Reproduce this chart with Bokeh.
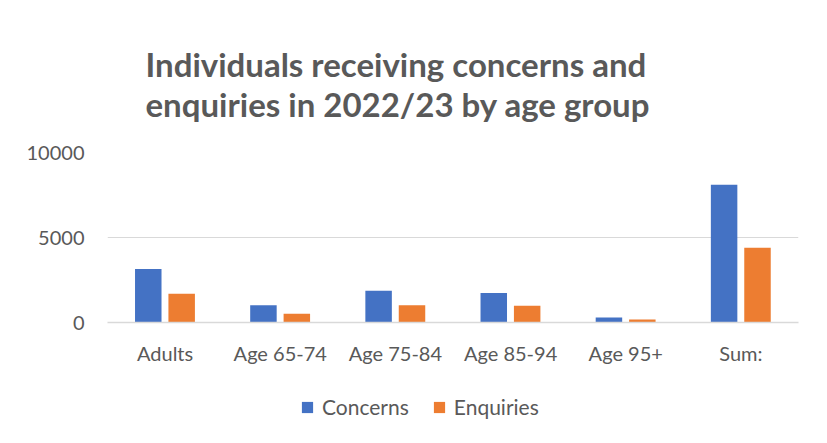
from bokeh.plotting import figure
from bokeh.layouts import column
from bokeh.models import (FactorRange, Range1d, FixedTicker, Legend,
                          LegendItem, ColumnDataSource)
from bokeh.transform import dodge
from bokeh.embed import file_html
from bokeh.resources import INLINE

categories = ["Adults", "Age 65-74", "Age 75-84", "Age 85-94", "Age 95+", "Sum:"]
concerns = [3140, 1020, 1870, 1730, 290, 8100]
enquiries = [1690, 510, 1020, 980, 180, 4390]
y_ticks = [0, 5000, 10000]
title_line1 = "Individuals receiving concerns and"
title_line2 = "enquiries in 2022/23 by age group"
series_names = ["Concerns", "Enquiries"]
colors = ["#4472C4", "#ED7D31"]

TEXT = "#595959"
GRID = "#d9d9d9"
FONT = "Lato"

src = ColumnDataSource(dict(cat=categories, concerns=concerns, enquiries=enquiries))
xr = FactorRange(*categories, range_padding=0)

p = figure(width=819, height=380, x_range=xr,
           y_range=Range1d(0, 10000), output_backend="svg", toolbar_location=None,
           min_border_left=107, min_border_right=21, min_border_top=152,
           min_border_bottom=58)

p.title.text = title_line1 + "\n" + title_line2
p.title.align = "left"
p.title.offset = 38
p.title.standoff = 58
p.title.text_font = FONT
p.title.text_font_size = "33px"
p.title.text_font_style = "bold"
p.title.text_color = TEXT
p.title.text_line_height = 1.0

r1 = p.vbar(x=dodge("cat", -0.146, range=xr), top="concerns", width=0.23,
            source=src, color=colors[0], line_color=None)
r2 = p.vbar(x=dodge("cat", 0.144, range=xr), top="enquiries", width=0.23,
            source=src, color=colors[1], line_color=None)

p.yaxis.ticker = FixedTicker(ticks=y_ticks)
p.yaxis.axis_line_color = None
p.yaxis.major_tick_line_color = None
p.yaxis.minor_tick_line_color = None
p.yaxis.major_label_standoff = 17
p.yaxis.major_label_text_font = FONT
p.yaxis.major_label_text_font_size = "20px"
p.yaxis.major_label_text_color = TEXT

p.xaxis.axis_line_color = GRID
p.xaxis.axis_line_width = 1.5
p.xaxis.major_tick_line_color = None
p.xaxis.minor_tick_line_color = None
p.xaxis.major_label_standoff = 12
p.xaxis.major_label_text_font = FONT
p.xaxis.major_label_text_font_size = "20px"
p.xaxis.major_label_text_color = TEXT

p.xgrid.grid_line_color = None
p.ygrid.grid_line_color = GRID
p.ygrid.grid_line_width = 1
p.outline_line_color = None

# legend strip: same bars, drawn against a y range far above them (so hidden),
# only so that the legend can show their swatches
p2 = figure(width=819, height=55, x_range=xr, y_range=Range1d(20000, 20001),
            output_backend="svg", toolbar_location=None,
            x_axis_location=None, y_axis_location=None,
            min_border_left=0, min_border_right=0, min_border_top=0, min_border_bottom=0)
p2.title.visible = False
p2.grid.visible = False
p2.outline_line_color = None
g1 = p2.vbar(x=dodge("cat", -0.146, range=xr), top="concerns", width=0.23,
             source=src, color=colors[0], line_color=None)
g2 = p2.vbar(x=dodge("cat", 0.144, range=xr), top="enquiries", width=0.23,
             source=src, color=colors[1], line_color=None)

legend = Legend(items=[LegendItem(label=series_names[0], renderers=[g1]),
                       LegendItem(label=series_names[1], renderers=[g2])],
                orientation="horizontal", location=(193, 16),
                border_line_color=None, background_fill_alpha=0,
                label_text_font=FONT, label_text_font_size="21px",
                label_text_color=TEXT, glyph_width=14, glyph_height=14,
                label_standoff=8, spacing=23, padding=0, margin=0)
p2.add_layout(legend, "center")

layout = column(p, p2, spacing=0)
open("out.html", "w").write(file_html(layout, INLINE))
